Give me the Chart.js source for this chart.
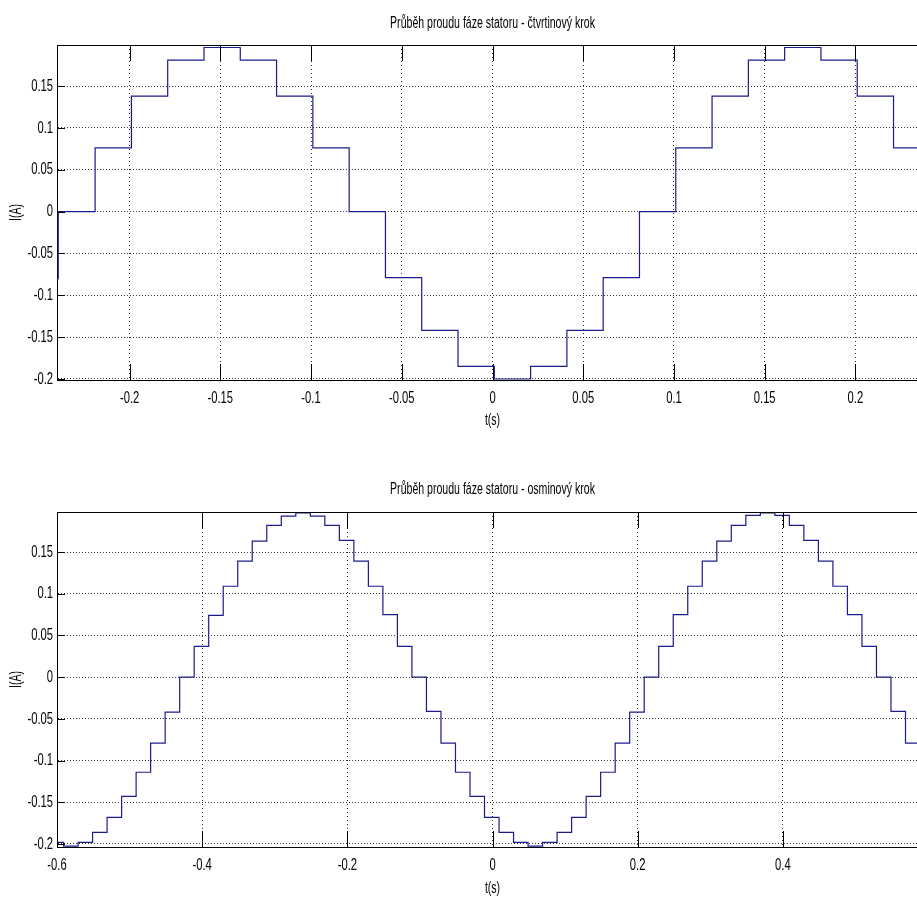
<!DOCTYPE html>
<html>

<head>
	<meta charset="utf-8">
	<style>
		html, body { margin: 0; padding: 0; background: #fff; overflow: hidden; }
		canvas { position: absolute; left: 0; }
		#chart-quarter { top: 0; }
		#chart-eighth { top: 450px; }
	</style>
	<script src="https://cdn.jsdelivr.net/npm/chart.js@4.4.0/dist/chart.umd.min.js"></script>
</head>

<body>
	<canvas id="chart-quarter" width="940" height="450"></canvas>
	<canvas id="chart-eighth" width="940" height="450"></canvas>

	<script>
		// Quarter step: each time is the start of a flat segment, level is its value
		const quarterTimes = [-0.24, -0.2393, -0.219, -0.199, -0.179, -0.159, -0.139, -0.119, -0.099, -0.079,
			-0.059, -0.039, -0.019, 0.001, 0.021, 0.041, 0.061, 0.081, 0.101, 0.121,
			0.141, 0.161, 0.181, 0.201, 0.221, 0.24];
		const quarterLevels = [-0.08, 0, 0.076, 0.138, 0.181, 0.196, 0.181, 0.138, 0.076, 0,
			-0.079, -0.142, -0.185, -0.2, -0.185, -0.142, -0.079, 0, 0.076, 0.138,
			0.181, 0.196, 0.181, 0.138, 0.076, 0.076];
		const quarterXTicks = [-0.2, -0.15, -0.1, -0.05, 0, 0.05, 0.1, 0.15, 0.2];

		// Eighth step
		const eighthTimes = [-0.6, -0.591, -0.571, -0.551, -0.531, -0.511, -0.491, -0.471, -0.451, -0.431,
			-0.411, -0.391, -0.371, -0.351, -0.331, -0.311, -0.291, -0.271, -0.251, -0.231,
			-0.211, -0.191, -0.171, -0.151, -0.131, -0.111, -0.091, -0.071, -0.051, -0.031,
			-0.011, 0.009, 0.029, 0.049, 0.069, 0.089, 0.109, 0.129, 0.149, 0.169,
			0.189, 0.209, 0.229, 0.249, 0.269, 0.289, 0.309, 0.329, 0.349, 0.369,
			0.389, 0.409, 0.429, 0.449, 0.469, 0.489, 0.509, 0.529, 0.549, 0.569, 0.6];
		const eighthLevels = [-0.198, -0.2025, -0.198, -0.186, -0.168, -0.143, -0.114, -0.079, -0.042, 0,
			0.037, 0.074, 0.109, 0.139, 0.163, 0.182, 0.193, 0.197, 0.193, 0.182,
			0.164, 0.139, 0.109, 0.075, 0.037, 0, -0.041, -0.079, -0.114, -0.143,
			-0.168, -0.186, -0.198, -0.2025, -0.198, -0.186, -0.168, -0.143, -0.114, -0.079,
			-0.042, 0, 0.037, 0.075, 0.109, 0.139, 0.163, 0.182, 0.194, 0.197,
			0.194, 0.182, 0.164, 0.139, 0.109, 0.075, 0.037, 0, -0.041, -0.079, -0.079];
		const eighthXTicks = [-0.6, -0.4, -0.2, 0, 0.2, 0.4];

		const yTicks = [-0.2, -0.15, -0.1, -0.05, 0, 0.05, 0.1, 0.15];

		const FONT = "'Liberation Sans', Arial, sans-serif";
		const LINE_COLOR = '#1c1c8e';
		// the original screenshot is squeezed sideways, so all text is drawn narrow
		const TEXT_SQUEEZE = 0.66;

		// MATLAB style box: top/right border and inward tick marks
		const matlabBox = {
			id: 'matlabBox',
			afterDraw(chart) {
				const { ctx, chartArea: a, scales: { x, y } } = chart;
				ctx.save();
				ctx.strokeStyle = '#000';
				ctx.lineWidth = 1;
				ctx.setLineDash([]);
				ctx.beginPath();
				ctx.moveTo(a.left, a.top + 0.5);
				ctx.lineTo(a.right, a.top + 0.5);
				ctx.moveTo(a.right - 0.5, a.top);
				ctx.lineTo(a.right - 0.5, a.bottom);
				x.ticks.forEach(t => {
					const px = Math.round(x.getPixelForValue(t.value)) + 0.5;
					ctx.moveTo(px, a.bottom);
					ctx.lineTo(px, a.bottom - 16);
					ctx.moveTo(px, a.top);
					ctx.lineTo(px, a.top + 16);
				});
				y.ticks.forEach(t => {
					const py = Math.round(y.getPixelForValue(t.value)) + 0.5;
					ctx.moveTo(a.left, py);
					ctx.lineTo(a.left + 8, py);
					ctx.moveTo(a.right, py);
					ctx.lineTo(a.right - 8, py);
				});
				ctx.stroke();
				ctx.restore();
			}
		};

		function narrow_text(ctx) {
			const fill = ctx.fillText;
			ctx.fillText = function (text, x, y) {
				this.save();
				this.translate(x, y);
				this.scale(TEXT_SQUEEZE, 1);
				fill.call(this, text, 0, 0);
				this.restore();
			};
		}

		function make_chart(id, cfg) {
			const ctx = document.getElementById(id).getContext('2d');
			narrow_text(ctx);
			const points = cfg.times.map((t, i) => ({ x: t, y: cfg.levels[i] }));
			return new Chart(ctx, {
				type: 'line',
				data: {
					datasets: [{
						data: points,
						borderColor: LINE_COLOR,
						borderWidth: 1.2,
						pointRadius: 0,
						stepped: 'before',
						fill: false
					}]
				},
				options: {
					responsive: false,
					animation: false,
					events: [],
					layout: { padding: { left: 0, right: 12, top: 0, bottom: 0 } },
					plugins: {
						legend: { display: false },
						tooltip: { enabled: false },
						title: {
							display: true,
							fullSize: false,
							text: cfg.title,
							color: '#000',
							font: { family: FONT, size: 16, weight: 'normal' },
							padding: { top: cfg.titleTop, bottom: cfg.titleBottom }
						}
					},
					scales: {
						x: {
							type: 'linear',
							min: cfg.xMin,
							max: cfg.xMax,
							afterFit: s => { s.height = cfg.xHeight; },
							afterBuildTicks: s => { s.ticks = cfg.xTicks.map(v => ({ value: v })); },
							grid: { color: 'rgba(0,0,0,0.8)', lineWidth: 1, drawTicks: false },
							border: { display: true, color: '#000', width: 1, dash: [1, 3] },
							ticks: {
								color: '#000',
								padding: 8,
								maxRotation: 0,
								autoSkip: false,
								font: { family: FONT, size: 17 },
								callback: v => String(+v.toFixed(3))
							},
							title: {
								display: true,
								text: 't(s)',
								color: '#000',
								font: { family: FONT, size: 16 },
								padding: { top: 0, bottom: cfg.xTitleBottom }
							}
						},
						y: {
							type: 'linear',
							min: cfg.yMin,
							max: cfg.yMax,
							afterFit: s => { s.width = 57; },
							afterBuildTicks: s => { s.ticks = yTicks.map(v => ({ value: v })); },
							grid: { color: 'rgba(0,0,0,0.8)', lineWidth: 1, drawTicks: false },
							border: { display: true, color: '#000', width: 1, dash: [1, 2] },
							ticks: {
								color: '#000',
								padding: 4,
								autoSkip: false,
								font: { family: FONT, size: 17 },
								callback: v => String(+v.toFixed(3))
							},
							title: {
								display: true,
								text: 'I(A)',
								color: '#000',
								font: { family: FONT, size: 16 },
								padding: { top: 7.4, bottom: 0 }
							}
						}
					}
				},
				plugins: [matlabBox]
			});
		}

		make_chart('chart-quarter', {
			times: quarterTimes,
			levels: quarterLevels,
			xTicks: quarterXTicks,
			title: 'Průběh proudu fáze statoru - čtvrtinový krok',
			titleTop: 13.9, titleBottom: 11.9,
			xMin: -0.24, xMax: 0.24,
			yMin: -0.2012, yMax: 0.199,
			xHeight: 70, xTitleBottom: 19.4
		});

		make_chart('chart-eighth', {
			times: eighthTimes,
			levels: eighthLevels,
			xTicks: eighthXTicks,
			title: 'Průběh proudu fáze statoru - osminový krok',
			titleTop: 30.4, titleBottom: 12.4,
			xMin: -0.6, xMax: 0.6,
			yMin: -0.2036, yMax: 0.198,
			xHeight: 53, xTitleBottom: 1.4
		});
	</script>
</body>

</html>
